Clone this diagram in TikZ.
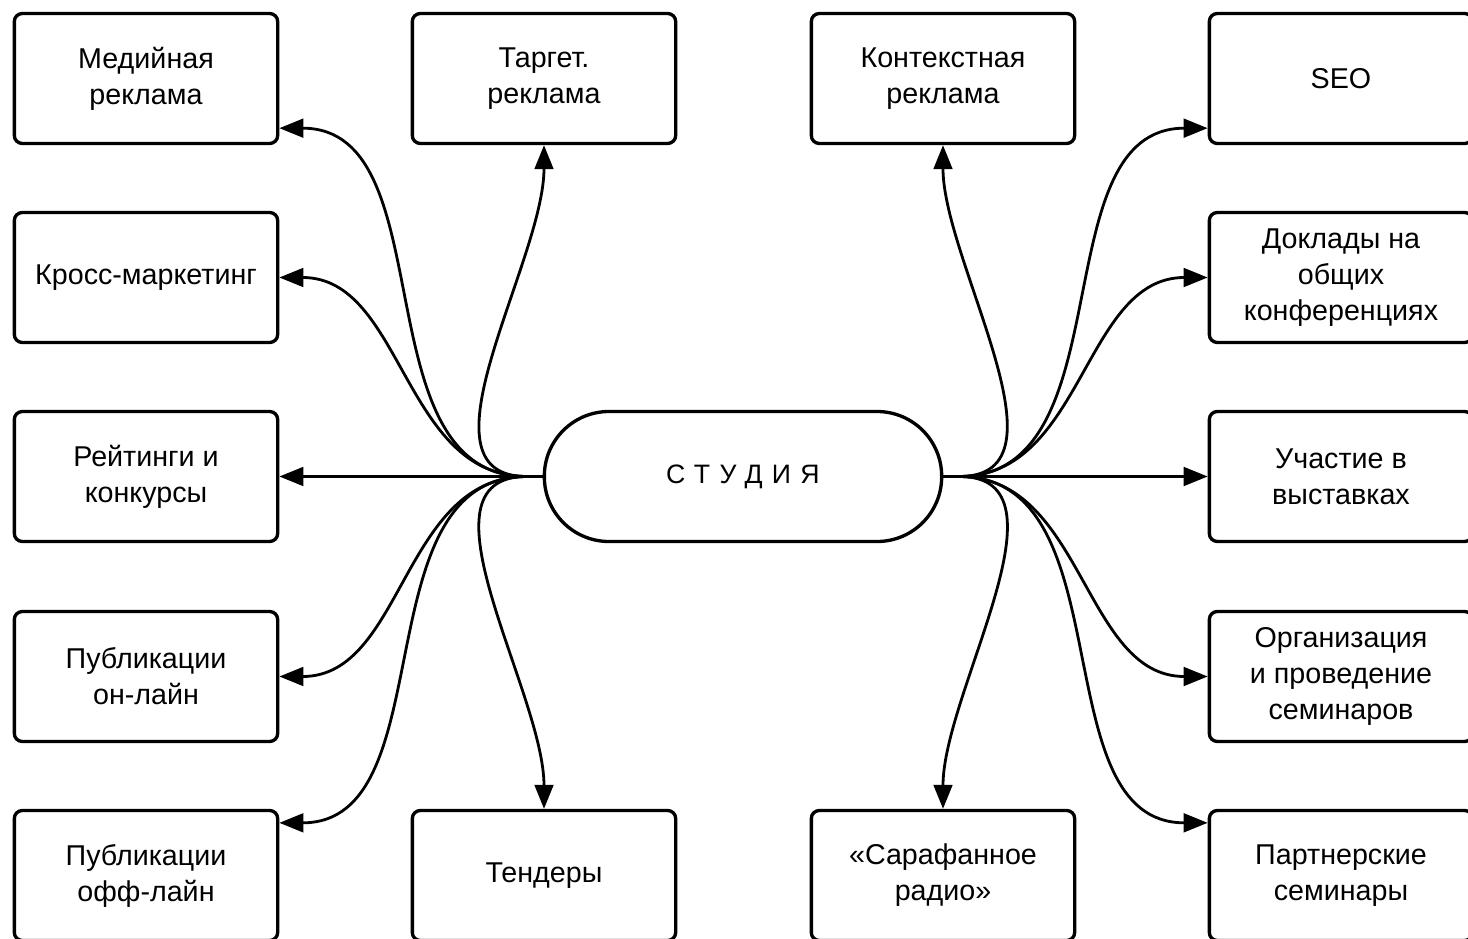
\documentclass[tikz,border=0pt]{standalone}
\usepackage{fontspec}
\setmainfont{Liberation Sans}
\usetikzlibrary{arrows.meta}

\begin{document}
\begin{tikzpicture}[
  x=0.75pt, y=-0.75pt,
  >={Triangle[length=18pt,width=14pt]},
  every node/.style={text=black,font=\fontsize{21.5}{27}\selectfont},
  box/.style={draw,line width=2.5pt,rounded corners=6pt,minimum width=197.5pt,
    minimum height=97.5pt,align=center,inner sep=0pt},
  hub/.style={draw,line width=2.5pt,rounded corners=48.5pt,minimum width=298pt,
    minimum height=97.5pt,inner sep=0pt},
  link/.style={->,line width=2.1pt}
]
  \useasboundingbox (0,0) rectangle (1468,939);

  % centre
  \node[hub,font=\fontsize{20}{27}\selectfont] (studio) at (743,476.5)
    {\addfontfeatures{LetterSpace=35}СТУДИЯ};
  \coordinate (lhub) at ([xshift=-12pt]studio.west);
  \coordinate (rhub) at ([xshift=12pt]studio.east);

  % left side
  \node[box] (media) at (146,78.5) {Медийная\\реклама};
  \node[box] (cross) at (146,277.5) {Кросс-маркетинг};
  \node[box] (rating) at (146,476.5) {Рейтинги и\\конкурсы};
  \node[box] (pubon) at (146,676.5) {Публикации\\он-лайн};
  \node[box] (puboff) at (146,875.5) {Публикации\\офф-лайн};
  \node[box] (target) at (544,78.5) {Таргет.\\реклама};
  \node[box] (tender) at (544,875.5) {Тендеры};

  % right side
  \node[box] (context) at (943,78.5) {Контекстная\\реклама};
  \node[box] (radio) at (943,875.5) {«Сарафанное\\радио»};
  \node[box] (seo) at (1341,78.5) {SEO};
  \node[box] (talks) at (1341,277.5) {Доклады на\\общих\\конференциях};
  \node[box] (expo) at (1341,476.5) {Участие в\\выставках};
  \node[box] (semorg) at (1341,676.5) {Организация\\и проведение\\семинаров};
  \node[box] (partner) at (1341,875.5) {Партнерские\\семинары};

  % connectors
  \draw[link] (studio.west) -- (lhub) to[out=180,in=0] ([yshift=12.75pt]media.south east);
  \draw[link] (studio.west) -- (lhub) to[out=180,in=0] (cross.east);
  \draw[link] (studio.west) -- (rating.east);
  \draw[link] (studio.west) -- (lhub) to[out=180,in=0] (pubon.east);
  \draw[link] (studio.west) -- (lhub) to[out=180,in=0] ([yshift=-10.5pt]puboff.north east);
  \draw[link] (studio.west) -- (lhub) to[out=180,in=-90,looseness=0.9] (target.south);
  \draw[link] (studio.west) -- (lhub) to[out=180,in=90,looseness=0.9] (tender.north);

  \draw[link] (studio.east) -- (rhub) to[out=0,in=-90,looseness=0.9] (context.south);
  \draw[link] (studio.east) -- (rhub) to[out=0,in=90,looseness=0.9] (radio.north);
  \draw[link] (studio.east) -- (rhub) to[out=0,in=180] ([yshift=12.75pt]seo.south west);
  \draw[link] (studio.east) -- (rhub) to[out=0,in=180] (talks.west);
  \draw[link] (studio.east) -- (expo.west);
  \draw[link] (studio.east) -- (rhub) to[out=0,in=180] (semorg.west);
  \draw[link] (studio.east) -- (rhub) to[out=0,in=180] ([yshift=-10.5pt]partner.north west);
\end{tikzpicture}
\end{document}
